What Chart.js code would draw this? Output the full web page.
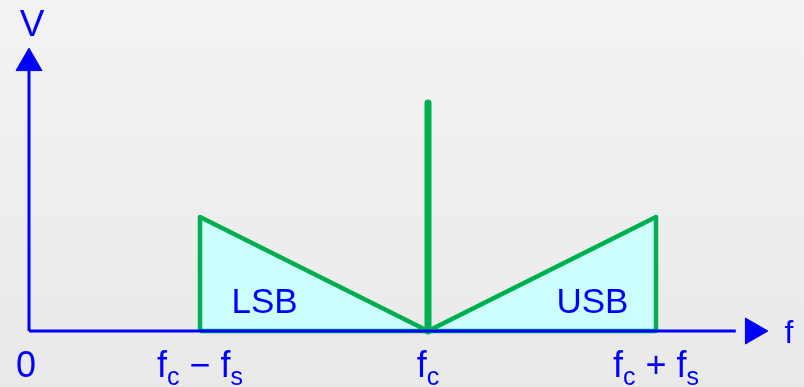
<!DOCTYPE html>
<html>
<head>
<meta charset="utf-8">
<script src="https://cdn.jsdelivr.net/npm/chart.js@4"></script>
<style>
html,body{margin:0;padding:0;background:#efefef;}
canvas{display:block;}
</style>
</head>
<body>
<canvas id="c" width="804" height="387"></canvas>
<script>
// ---- data (x in units of the axis: 0 = origin, fc = 1.75, fs = 1) ----
const fc = 1.75;
const fs = 1.0;
const carrierLevel = 2;
const sidebandLevel = 1;
const tickValues = [0, fc - fs, fc, fc + fs];
const tickLabels = ['0', 'f_c \u2212 f_s', 'f_c', 'f_c + f_s'];
const lsbPoints = [{x: fc - fs, y: 0}, {x: fc - fs, y: sidebandLevel}, {x: fc, y: 0}];
const usbPoints = [{x: fc, y: 0}, {x: fc + fs, y: sidebandLevel}, {x: fc + fs, y: 0}];
const carrierPoints = [{x: fc, y: 0}, {x: fc, y: carrierLevel}];
const bandNames = ['LSB', 'USB'];
const bandLabelX = [1.033, 2.471];
const bandLabelY = 0.158;
const xAxisEnd = 3.1, xArrowAt = 3.175;
const yAxisEnd = 2.3, yArrowAt = 2.35;
const axisTitles = ['f', 'V'];

const BLUE = '#0000ff', GREEN = '#00b050', CYAN = '#ccffff';

const bgPlugin = {
  id: 'bg',
  beforeDraw(chart) {
    const ctx = chart.ctx;
    const g = ctx.createLinearGradient(0, 0, 0, chart.height);
    g.addColorStop(0, '#f3f3f3');
    g.addColorStop(1, '#e9e9e9');
    ctx.save();
    ctx.fillStyle = g;
    ctx.fillRect(0, 0, chart.width, chart.height);
    ctx.restore();
  }
};

function drawSubText(ctx, text, cx, baseline, size, subSize, subDy) {
  const parts = [];
  for (let i = 0; i < text.length; i++) {
    if (text[i] === '_' && i + 1 < text.length) { parts.push({t: text[i + 1], sub: true}); i++; }
    else parts.push({t: text[i], sub: false});
  }
  const fontMain = size + 'px "Liberation Sans", Arial, sans-serif';
  const fontSub = subSize + 'px "Liberation Sans", Arial, sans-serif';
  let w = 0;
  parts.forEach(p => { ctx.font = p.sub ? fontSub : fontMain; p.w = ctx.measureText(p.t).width; w += p.w; });
  let x = cx - w / 2;
  ctx.textAlign = 'left';
  ctx.textBaseline = 'alphabetic';
  parts.forEach(p => {
    ctx.font = p.sub ? fontSub : fontMain;
    ctx.fillText(p.t, x, baseline + (p.sub ? subDy : 0));
    x += p.w;
  });
}

const textPlugin = {
  id: 'texts',
  afterDatasetsDraw(chart) {
    const ctx = chart.ctx;
    const xs = chart.scales.x, ys = chart.scales.y;
    ctx.save();
    ctx.fillStyle = BLUE;
    const y0 = ys.getPixelForValue(0);
    tickLabels.forEach((lab, i) => {
      drawSubText(ctx, lab, xs.getPixelForValue(tickValues[i]) - (i === 0 ? 3 : 0), y0 + 46, 36, 25, 8);
    });
    ctx.font = '35px "Liberation Sans", Arial, sans-serif';
    ctx.textAlign = 'center';
    ctx.textBaseline = 'alphabetic';
    bandNames.forEach((n, i) => {
      ctx.fillText(n, xs.getPixelForValue(bandLabelX[i]), ys.getPixelForValue(bandLabelY));
    });
    ctx.font = '32px "Liberation Sans", Arial, sans-serif';
    ctx.fillText(axisTitles[0], xs.getPixelForValue(3.333), ys.getPixelForValue(-0.105));
    ctx.font = '37px "Liberation Sans", Arial, sans-serif';
    ctx.fillText(axisTitles[1], xs.getPixelForValue(0.014), ys.getPixelForValue(2.588));
    ctx.restore();
  }
};

new Chart(document.getElementById('c'), {
  type: 'scatter',
  data: {
    datasets: [
      { data: lsbPoints, showLine: true, fill: 'origin', backgroundColor: CYAN,
        borderWidth: 0, pointRadius: 0, order: 10, clip: false },
      { data: usbPoints, showLine: true, fill: 'origin', backgroundColor: CYAN,
        borderWidth: 0, pointRadius: 0, order: 10, clip: false },
      { data: lsbPoints.concat([lsbPoints[0]]), showLine: true, fill: false, borderColor: GREEN,
        borderWidth: 4.5, borderJoinStyle: 'round', pointRadius: 0, order: 8, clip: false },
      { data: usbPoints.concat([usbPoints[0]]), showLine: true, fill: false, borderColor: GREEN,
        borderWidth: 4.5, borderJoinStyle: 'round', pointRadius: 0, order: 8, clip: false },
      { data: carrierPoints, showLine: true, fill: false, borderColor: GREEN,
        borderWidth: 7, borderCapStyle: 'round', pointRadius: 0, order: 6, clip: false },
      { data: [{x: 0, y: 0}, {x: xAxisEnd, y: 0}], showLine: true, fill: false, borderColor: BLUE,
        borderWidth: 3, pointRadius: 0, order: 2, clip: false },
      { data: [{x: 0, y: 0}, {x: 0, y: yAxisEnd}], showLine: true, fill: false, borderColor: BLUE,
        borderWidth: 3, pointRadius: 0, order: 2, clip: false },
      { data: [{x: xArrowAt, y: 0}], pointStyle: 'triangle', rotation: 90, pointRadius: 15,
        backgroundColor: BLUE, borderColor: BLUE, borderWidth: 1, order: 1, clip: false },
      { data: [{x: 0, y: yArrowAt}], pointStyle: 'triangle', rotation: 0, pointRadius: 15,
        backgroundColor: BLUE, borderColor: BLUE, borderWidth: 1, order: 1, clip: false }
    ]
  },
  options: {
    responsive: false,
    devicePixelRatio: 1,
    animation: false,
    layout: { padding: { left: 29, right: 804 - 29 - 3.3 * 228, top: 46, bottom: 56 } },
    scales: {
      x: { type: 'linear', min: 0, max: 3.3, display: false },
      y: { type: 'linear', min: 0, max: 2.5, display: false }
    },
    plugins: { legend: { display: false }, tooltip: { enabled: false } },
    elements: { line: { tension: 0 } }
  },
  plugins: [bgPlugin, textPlugin]
});
</script>
</body>
</html>
